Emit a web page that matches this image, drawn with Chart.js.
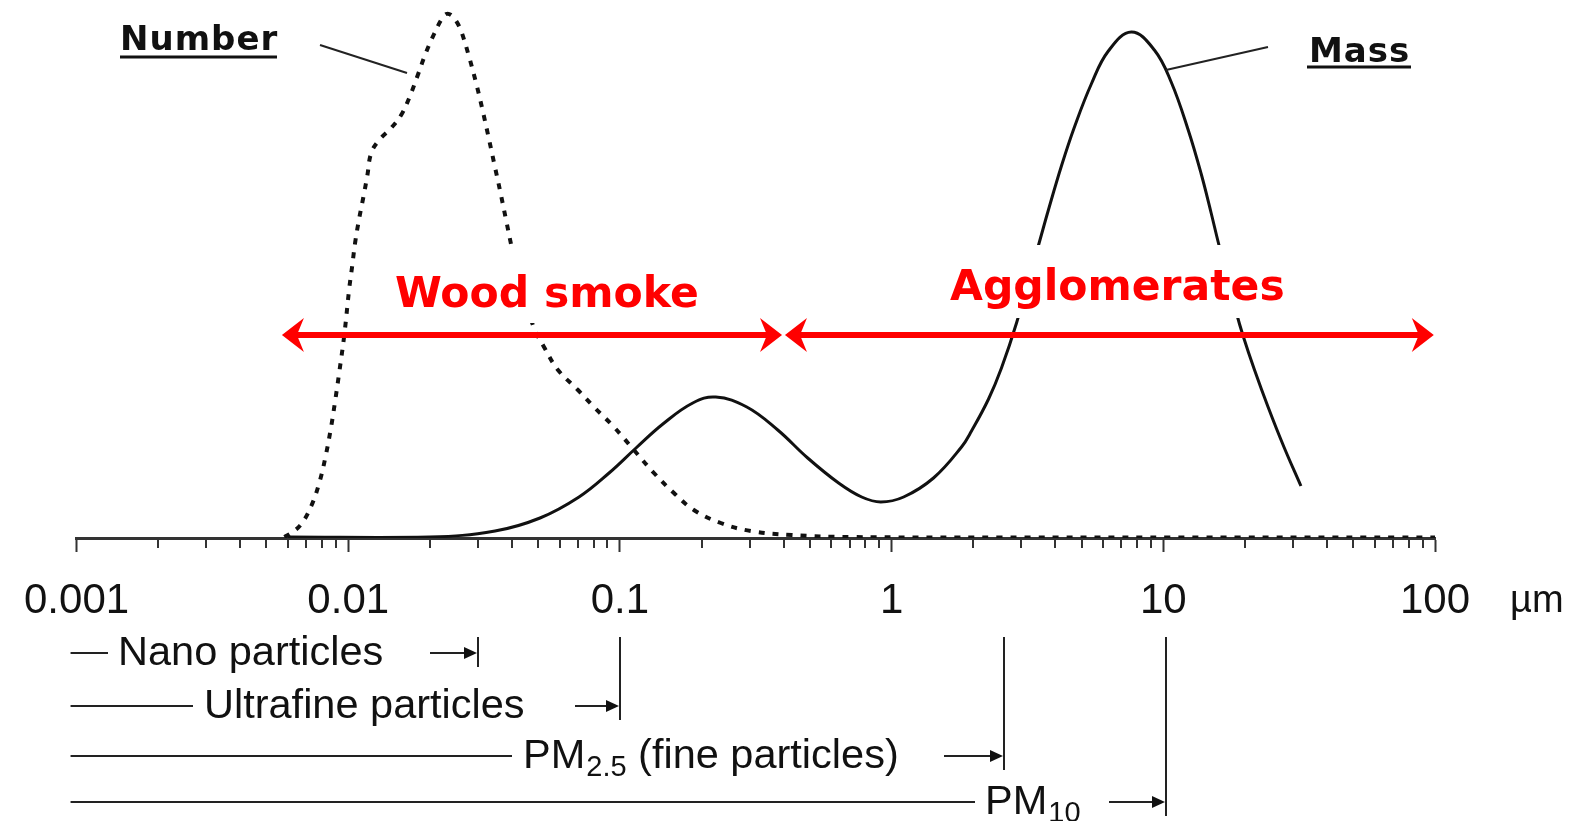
<!DOCTYPE html>
<html>
<head>
<meta charset="utf-8">
<script src="https://cdn.jsdelivr.net/npm/chart.js@4.4.1/dist/chart.umd.min.js"></script>
<style>
  html, body { margin: 0; padding: 0; background: #fff; }
</style>
</head>
<body>
<canvas id="c" width="1573" height="821"></canvas>
<script>
// Particle size distribution: particle diameter (µm, log axis) vs relative height

// ---------- Data ----------
const numberSize = [0.00582, 0.00617, 0.00672, 0.00731, 0.00782, 0.00823, 0.00866, 0.00896, 0.00927,
  0.00967, 0.01009, 0.01034, 0.01061, 0.01098, 0.01135, 0.01175, 0.01215, 0.0130, 0.01439, 0.01566,
  0.01676, 0.01809, 0.01936, 0.0207, 0.02198, 0.02293, 0.02392, 0.02496, 0.02603, 0.02786, 0.02955,
  0.03109, 0.03271, 0.03442, 0.03623, 0.0381, 0.04009, 0.04325, 0.0483, 0.05255, 0.05916, 0.07007,
  0.08027, 0.09506, 0.1126, 0.1334, 0.158, 0.1871, 0.2351, 0.3031, 0.429, 0.707, 2.5, 14, 100];
const numberLevel = [1, 5, 14, 32, 55, 80, 112, 138, 166,
  203, 250, 272, 296, 320, 340, 362, 385, 398, 410, 423,
  440, 464, 486, 504, 518, 524, 523, 517, 507, 481, 455,
  430, 403, 375, 347, 318, 289, 250, 210, 191, 168, 148,
  131, 111, 88, 65, 45, 28, 15, 7, 3, 1, 0.5, 0.5, 0.5];

const massSize = [0.006, 0.0199, 0.0347, 0.0508, 0.0707, 0.0912, 0.1146, 0.1439, 0.1854, 0.2253,
  0.2931, 0.381, 0.491, 0.638, 0.776, 0.912, 1.107, 1.426, 1.808, 1.968, 2.274, 2.537, 2.882,
  3.499, 3.776, 4.217, 4.709, 5.433, 6.277, 7.628, 9.27, 10.69, 12.35, 13.79, 15.0, 15.92,
  18.54, 19.67, 21.6, 24.3, 27.8, 32.1];
const massLevel = [1, 1, 7, 20, 41, 65, 90, 114, 135, 141,
  131, 108, 80, 55, 41, 36, 41, 60, 91, 107, 139, 170, 215,
  296, 328, 372, 411, 454, 487, 506, 488, 456, 408, 364, 325, 296,
  226, 202, 169, 131, 91, 52];

const decadeLabels = ["0.001", "0.01", "0.1", "1", "10", "100"];
const unitLabel = "µm";
const seriesNames = ["Number", "Mass"];

const modeNames = ["Wood smoke", "Agglomerates"];
const woodSmokeRange = [0.0057, 0.395];
const agglomRange = [0.405, 99];

const sizeClassNames = [["Nano particles"], ["Ultrafine particles"], ["PM", "2.5", " (fine particles)"], ["PM", "10", ""]];
const sizeClassLimits = [0.03, 0.1, 2.6, 10.2];

// ---------- Helpers ----------
function toPoints(xs, ys) {
  return xs.map((v, i) => ({ x: v, y: ys[i] }));
}
function isDecade(v) {
  const l = Math.log10(v);
  return Math.abs(l - Math.round(l)) < 1e-9;
}
function line(ctx, x1, y1, x2, y2) {
  ctx.beginPath();
  ctx.moveTo(x1, y1);
  ctx.lineTo(x2, y2);
  ctx.stroke();
}
function stealthHead(ctx, tipX, y, dir) {
  // dir = 1: points left, dir = -1: points right
  ctx.beginPath();
  ctx.moveTo(tipX, y);
  ctx.lineTo(tipX + dir * 22, y - 17);
  ctx.lineTo(tipX + dir * 15, y);
  ctx.lineTo(tipX + dir * 22, y + 17);
  ctx.closePath();
  ctx.fill();
}
function redArrow(ctx, x1, x2, y) {
  ctx.strokeStyle = "#ff0000";
  ctx.fillStyle = "#ff0000";
  ctx.lineWidth = 6;
  line(ctx, x1 + 12, y, x2 - 12, y);
  stealthHead(ctx, x1, y, 1);
  stealthHead(ctx, x2, y, -1);
}

// all log ticks 1..9 x 10^e
const tickValues = [];
for (let e = -3; e <= 1; e++) {
  for (let m = 1; m <= 9; m++) tickValues.push(m * Math.pow(10, e));
}
tickValues.push(100);

// ---------- Overlay (labels, arrows, size classes) ----------
const overlay = {
  id: "overlay",
  afterDraw(chart) {
    const { ctx, chartArea: a, scales } = chart;
    const x = scales.x;
    const px = v => x.getPixelForValue(v);
    ctx.save();

    // white boxes behind the mode labels (they hide the curves)
    ctx.fillStyle = "#fff";
    ctx.fillRect(385, 250, 325, 73);
    ctx.fillRect(940, 245, 350, 73);

    // mode labels
    ctx.fillStyle = "#ff0000";
    ctx.font = "bold 42.5px 'DejaVu Sans'";
    ctx.textBaseline = "alphabetic";
    ctx.textAlign = "left";
    ctx.fillText(modeNames[0], 395, 307);
    ctx.fillText(modeNames[1], 950, 300);

    // mode arrows
    redArrow(ctx, px(woodSmokeRange[0]), px(woodSmokeRange[1]), 335);
    redArrow(ctx, px(agglomRange[0]), px(agglomRange[1]), 335);

    // series names + leader lines
    ctx.strokeStyle = "#222";
    ctx.lineWidth = 2;
    line(ctx, 320, 45, 407, 73);
    line(ctx, 1166, 70, 1268, 47);
    ctx.fillStyle = "#111";
    ctx.font = "bold 34px 'DejaVu Sans'";
    ctx.letterSpacing = "1px";
    ctx.fillText(seriesNames[0], 120, 50);
    ctx.fillText(seriesNames[1], 1309, 62);
    ctx.letterSpacing = "0px";
    ctx.strokeStyle = "#111";
    ctx.lineWidth = 3;
    line(ctx, 120, 57, 277, 57);
    line(ctx, 1307, 67, 1411, 67);

    // minor ticks
    ctx.strokeStyle = "#333";
    ctx.lineWidth = 2;
    x.ticks.forEach(t => {
      if (!t.major) {
        const p = Math.round(px(t.value));
        line(ctx, p, a.bottom, p, a.bottom + 10);
      }
    });

    // unit
    ctx.fillStyle = "#111";
    ctx.font = "38px 'Liberation Sans'";
    ctx.fillText(unitLabel, 1510, 612);

    // size classes
    const rowY = [653, 706, 756, 802];
    const textX = [118, 204, 523, 985];
    const lineEnd = [108, 193, 512, 975];
    const arrowLen = [48, 45, 60, 57];
    const startX = px(0.001) - 6;
    sizeClassNames.forEach((parts, i) => {
      const y = rowY[i];
      const end = Math.round(px(sizeClassLimits[i]));
      ctx.strokeStyle = "#222";
      ctx.fillStyle = "#111";
      ctx.lineWidth = 2;
      line(ctx, startX, y, lineEnd[i], y);
      line(ctx, end, 637, end, y + 14);
      // arrow
      line(ctx, end - arrowLen[i], y, end - 10, y);
      ctx.beginPath();
      ctx.moveTo(end - 1, y);
      ctx.lineTo(end - 14, y - 6);
      ctx.lineTo(end - 14, y + 6);
      ctx.closePath();
      ctx.fill();
      // text
      let tx = textX[i];
      ctx.font = "41.5px 'Liberation Sans'";
      ctx.fillText(parts[0], tx, y + 12);
      if (parts.length > 1) {
        tx += ctx.measureText(parts[0]).width + 1;
        ctx.font = "29px 'Liberation Sans'";
        ctx.fillText(parts[1], tx, y + 20);
        tx += ctx.measureText(parts[1]).width;
        ctx.font = "41.5px 'Liberation Sans'";
        ctx.fillText(parts[2], tx, y + 12);
      }
    });

    ctx.restore();
  }
};

// ---------- Chart ----------
new Chart(document.getElementById("c"), {
  type: "line",
  data: {
    datasets: [
      {
        label: seriesNames[0],
        data: toPoints(numberSize, numberLevel),
        borderColor: "#111",
        borderWidth: 4,
        borderDash: [6, 8],
        pointRadius: 0,
        tension: 0.4,
        fill: false
      },
      {
        label: seriesNames[1],
        data: toPoints(massSize, massLevel),
        borderColor: "#111",
        borderWidth: 3,
        pointRadius: 0,
        tension: 0.4,
        fill: false
      }
    ]
  },
  options: {
    responsive: false,
    animation: false,
    events: [],
    layout: { padding: { left: 75, right: 138, top: 8, bottom: 183 } },
    plugins: { legend: { display: false }, tooltip: { enabled: false } },
    scales: {
      x: {
        type: "logarithmic",
        min: 0.001,
        max: 100,
        afterBuildTicks: s => {
          s.ticks = tickValues.map(v => ({ value: v, major: isDecade(v) }));
        },
        afterFit: s => { s.height = 100; },
        grid: {
          display: true,
          drawOnChartArea: false,
          drawTicks: true,
          tickLength: 14,
          tickWidth: 2,
          tickColor: c => (c.tick && c.tick.major ? "#333" : "rgba(0,0,0,0)")
        },
        border: { display: true, color: "#333", width: 3 },
        ticks: {
          autoSkip: false,
          maxRotation: 0,
          padding: 24,
          color: "#111",
          font: { family: "'Liberation Sans'", size: 42 },
          callback: v => (isDecade(v) ? decadeLabels[Math.round(Math.log10(v)) + 3] : "")
        }
      },
      y: {
        display: false,
        min: 0,
        max: 530
      }
    }
  },
  plugins: [overlay]
});
</script>
</body>
</html>
